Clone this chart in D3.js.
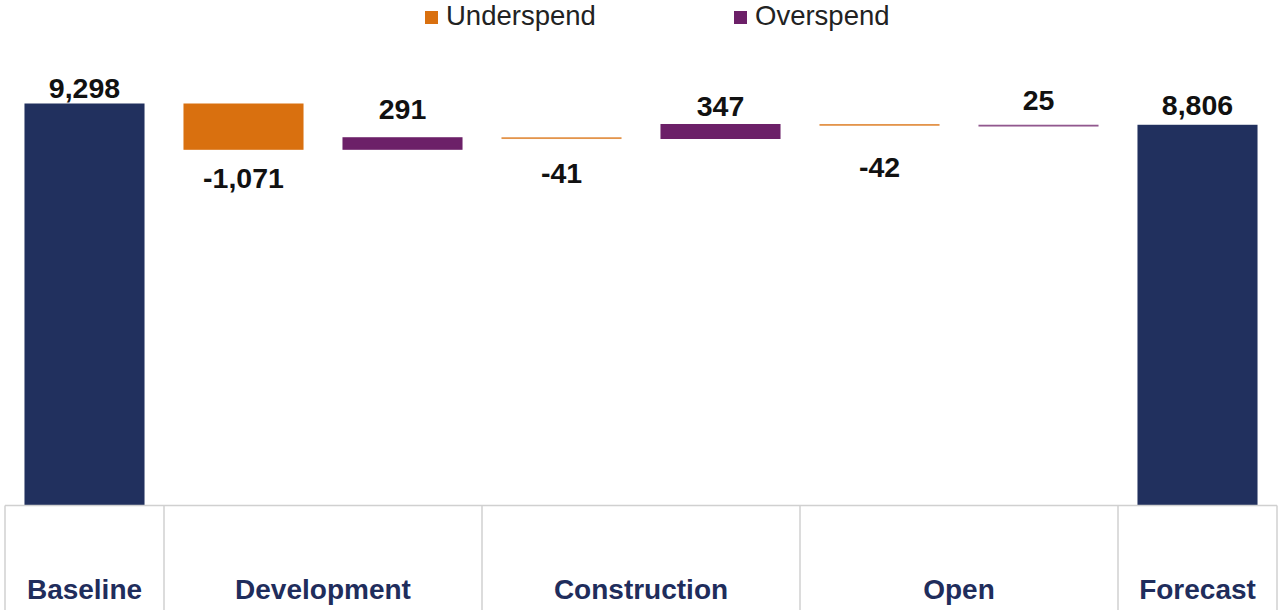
<!DOCTYPE html>
<html>
<head>
<meta charset="utf-8">
<script src="https://cdn.jsdelivr.net/npm/d3@7"></script>
<style>
  body { margin: 0; background: #fff; }
  svg text { font-family: "Liberation Sans", Arial, sans-serif; }
</style>
</head>
<body>
<div id="chart"></div>
<script>
// Chart data
const groups = ["Baseline", "Development", "Construction", "Open", "Forecast"];
const stepGroup = ["Baseline", "Development", "Development", "Construction", "Construction", "Open", "Open", "Forecast"];
const stepType = ["total", "under", "over", "under", "over", "under", "over", "total"];
const stepValue = [9298, -1071, 291, -41, 347, -42, 25, 8806];
const legendNames = ["Underspend", "Overspend"];

// small vertical nudges for the data labels (as placed in the original)
const labelNudge = [2, -2, -10, 4, 0, 11, -7, -2];

const colors = { total: "#21305e", under: "#d9700f", over: "#6c2068" };

function drawWaterfall() {
    d3.select("#chart").html("");

    const width = 1279;
    const height = 610;
    const axisY = 505.5;

    const svg = d3.select("#chart")
        .append("svg")
        .attr("width", width)
        .attr("height", height);

    const x = d3.scaleBand()
        .domain(d3.range(stepValue.length))
        .range([5, 1277])
        .paddingInner(0.245)
        .paddingOuter(0.1225);

    const y = d3.scaleLinear()
        .domain([0, 10000])
        .range([axisY, 73.15]);

    // running totals -> bar extents
    let running = 0;
    const bars = stepValue.map((v, i) => {
        let lo, hi;
        if (stepType[i] === "total") {
            lo = 0; hi = v; running = v;
        } else {
            const start = running;
            running += v;
            lo = Math.min(start, running);
            hi = Math.max(start, running);
        }
        return { i, v, type: stepType[i], lo, hi };
    });

    svg.selectAll("rect.bar")
        .data(bars)
        .enter()
        .append("rect")
        .attr("class", "bar")
        .attr("x", d => x(d.i))
        .attr("width", x.bandwidth())
        .attr("y", d => y(d.hi))
        .attr("height", d => Math.max(1.8, y(d.lo) - y(d.hi)))
        .attr("fill", d => colors[d.type])
        .attr("fill-opacity", d => (y(d.lo) - y(d.hi)) < 3 ? 0.75 : 1);

    // data labels (plain hyphen for negatives, like the original)
    const fmt = d3.formatLocale({ decimal: ".", thousands: ",", grouping: [3], currency: ["", ""], minus: "-" }).format(",");
    svg.selectAll("text.val")
        .data(bars)
        .enter()
        .append("text")
        .attr("class", "val")
        .attr("x", d => x(d.i) + x.bandwidth() / 2)
        .attr("y", d => (d.v >= 0 ? y(d.hi) - 8 : y(d.lo) + 40) + labelNudge[d.i])
        .attr("text-anchor", "middle")
        .attr("font-size", 28.5)
        .attr("font-weight", "bold")
        .attr("fill", "#111")
        .text(d => fmt(d.v));

    // category axis: baseline plus group separators
    const grid = "#d0d0d0";
    svg.append("line")
        .attr("x1", 5).attr("x2", 1277)
        .attr("y1", axisY).attr("y2", axisY)
        .attr("stroke", grid).attr("stroke-width", 1.5);

    const step = x.step();
    const left0 = x(0) - x.paddingOuter() * step;
    const spans = groups.map(g => {
        const idx = stepGroup.map((s, i) => s === g ? i : -1).filter(i => i >= 0);
        return {
            name: g,
            x0: left0 + d3.min(idx) * step,
            x1: left0 + (d3.max(idx) + 1) * step
        };
    });

    const edges = [spans[0].x0].concat(spans.map(s => s.x1));
    svg.selectAll("line.sep")
        .data(edges)
        .enter()
        .append("line")
        .attr("class", "sep")
        .attr("x1", d => d).attr("x2", d => d)
        .attr("y1", axisY).attr("y2", height)
        .attr("stroke", grid).attr("stroke-width", 1.5);

    svg.selectAll("text.cat")
        .data(spans)
        .enter()
        .append("text")
        .attr("class", "cat")
        .attr("x", d => (d.x0 + d.x1) / 2)
        .attr("y", 599)
        .attr("text-anchor", "middle")
        .attr("font-size", 28)
        .attr("font-weight", "bold")
        .attr("fill", "#1f2d5c")
        .text(d => d.name);

    // legend
    const legendX = [425, 734];
    const legend = svg.selectAll("g.legend")
        .data(legendNames)
        .enter()
        .append("g")
        .attr("class", "legend")
        .attr("transform", (d, i) => `translate(${legendX[i]}, 0)`);

    legend.append("rect")
        .attr("x", 0).attr("y", 11)
        .attr("width", 13).attr("height", 13)
        .attr("fill", (d, i) => i === 0 ? colors.under : colors.over);

    legend.append("text")
        .attr("x", 21)
        .attr("y", 25)
        .attr("font-size", 27.5)
        .attr("fill", "#222")
        .text(d => d);
}

drawWaterfall();
</script>
</body>
</html>
